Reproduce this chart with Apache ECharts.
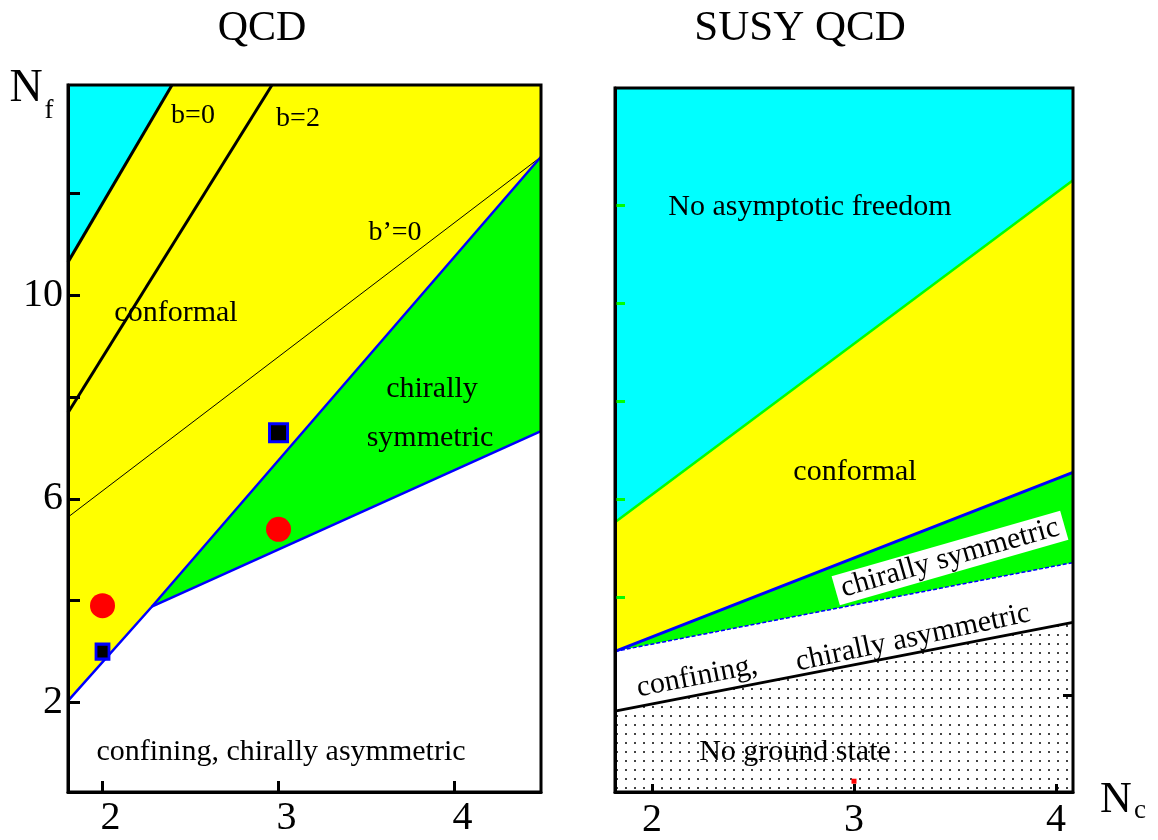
<!DOCTYPE html>
<html>
<head>
<meta charset="utf-8">
<script src="https://cdn.jsdelivr.net/npm/echarts@6/dist/echarts.min.js"></script>
<style>
html,body{margin:0;padding:0;background:#fff;}
#chart{width:1158px;height:840px;}
</style>
</head>
<body>
<div id="chart"></div>
<script>
// ---------- data (Nc, Nf) ----------
// QCD panel
const qcdXTicks = [2, 3, 4];
const qcdYTicks = [2, 4, 6, 8, 10, 12];
const qcdYLabels = [2, 6, 10];
const qcdB0 = [[1.804, 10.65], [2.395, 14.13]];           // b=0 line (asymptotic freedom lost)
const qcdB2 = [[1.804, 7.69], [2.963, 14.13]];            // b=2 line
const qcdBprime = [[1.804, 5.64], [4.491, 12.72]];        // b'=0 line
const qcdUpper = [[1.804, 2.03], [2.28, 3.88], [4.491, 12.72]]; // conformal / chirally symmetric boundary
const qcdLower = [[2.28, 3.88], [4.491, 7.33]];           // chirally symmetric / confining boundary
const qcdCircles = [[2, 3.9], [3, 5.4]];
const qcdSquaresBig = [[3, 7.3]];
const qcdSquaresSmall = [[2, 3.0]];

// SUSY QCD panel
const susyXTicks = [2, 3, 4];
const susyYTicks = [4, 6, 8, 10, 12];
const susyYTicksBlack = [2];
const susyAF = [[1.817, 5.53], [4.084, 12.51]];           // asymptotic freedom boundary
const susyUpper = [[1.817, 2.90], [4.084, 6.55]];         // conformal lower edge
const susyLower = [[1.817, 2.90], [4.084, 4.71]];         // chirally symmetric lower edge
const susyNoGround = [[1.817, 1.68], [4.084, 3.49]];      // no ground state upper edge
const susyMark = [[3, 0.25]];

// ---------- styling ----------
const SERIF = "'Liberation Serif', 'Times New Roman', serif";
const CYAN = '#00ffff', YELLOW = '#ffff00', GREEN = '#00ff00', BLUE = '#0000ff', RED = '#ff0000';

const dotCanvas = document.createElement('canvas');
dotCanvas.width = 9; dotCanvas.height = 9;
const dctx = dotCanvas.getContext('2d');
dctx.fillStyle = '#ffffff'; dctx.fillRect(0, 0, 9, 9);
dctx.fillStyle = '#444444'; dctx.fillRect(4, 4, 2, 2);

function fill(data, color, origin, gx, gy, z) {
  return { type: 'line', data: data, xAxisIndex: gx, yAxisIndex: gy, showSymbol: false, silent: true,
    lineStyle: { opacity: 0, width: 0 }, areaStyle: { color: color, opacity: 1, origin: origin }, z: z };
}
function line(data, color, width, gx, gy, type) {
  return { type: 'line', data: data, xAxisIndex: gx, yAxisIndex: gy, showSymbol: false, silent: true,
    lineStyle: { color: color, width: width, type: type || 'solid' }, z: 5 };
}
function txt(x, y, s, size, rot, bg) {
  const st = { text: s, fontSize: size, fontFamily: SERIF, fill: '#000', align: 'center', verticalAlign: 'middle' };
  if (bg) { st.backgroundColor = '#fff'; st.padding = [0, 6]; }
  return { type: 'text', x: x, y: y, rotation: (rot || 0) * Math.PI / 180, z: 200, silent: true, style: st };
}

const chart = echarts.init(document.getElementById('chart'), null, { renderer: 'canvas' });

const axisCommon = {
  type: 'value', z: 10,
  axisLine: { show: true, lineStyle: { color: '#000', width: 3 } },
  splitLine: { show: false }
};

const option = {
  animation: false,
  backgroundColor: '#fff',
  grid: [
    { left: 68, top: 85, width: 473, height: 707, show: true, borderColor: '#000', borderWidth: 3, backgroundColor: 'transparent', z: 20 },
    { left: 615, top: 88, width: 458, height: 705, show: true, borderColor: '#000', borderWidth: 3, backgroundColor: 'transparent', z: 20 }
  ],
  xAxis: [
    Object.assign({}, axisCommon, { gridIndex: 0, min: 1.804, max: 4.491,
      axisTick: { show: true, inside: true, length: 11, customValues: qcdXTicks, lineStyle: { color: '#000', width: 3 } },
      axisLabel: { show: true, customValues: qcdXTicks, fontSize: 40, fontFamily: SERIF, color: '#000', margin: 6, padding: [0, 0, 0, 16] } }),
    Object.assign({}, axisCommon, { gridIndex: 1, min: 1.817, max: 4.084,
      axisTick: { show: true, inside: true, length: 8, customValues: susyXTicks, lineStyle: { color: '#000', width: 3 } },
      axisLabel: { show: true, customValues: susyXTicks, fontSize: 40, fontFamily: SERIF, color: '#000', margin: 8 } })
  ],
  yAxis: [
    Object.assign({}, axisCommon, { gridIndex: 0, min: 0.24, max: 14.13,
      axisTick: { show: true, inside: true, length: 12, customValues: qcdYTicks, lineStyle: { color: '#000', width: 3 } },
      axisLabel: { show: true, customValues: qcdYLabels, fontSize: 40, fontFamily: SERIF, color: '#000', margin: 5 } }),
    Object.assign({}, axisCommon, { gridIndex: 1, min: 0.03, max: 14.39,
      axisTick: { show: true, inside: true, length: 10, customValues: susyYTicks, lineStyle: { color: GREEN, width: 3 } },
      axisLabel: { show: false } }),
    Object.assign({}, axisCommon, { gridIndex: 1, min: 0.03, max: 14.39,
      axisLine: { show: false },
      axisTick: { show: true, inside: true, length: 10, customValues: susyYTicksBlack, lineStyle: { color: '#000', width: 3 } },
      axisLabel: { show: false } })
  ],
  series: [
    // QCD regions
    fill(qcdLower, GREEN, 'end', 0, 0, 1),
    fill(qcdUpper, YELLOW, 'end', 0, 0, 2),
    fill(qcdB0, CYAN, 'end', 0, 0, 3),
    line(qcdB0, '#000', 3, 0, 0),
    line(qcdB2, '#000', 3, 0, 0),
    line(qcdBprime, '#000', 1, 0, 0),
    line(qcdUpper, BLUE, 2.5, 0, 0),
    line(qcdLower, BLUE, 2.5, 0, 0),
    { type: 'scatter', xAxisIndex: 0, yAxisIndex: 0, data: qcdCircles, symbol: 'circle', symbolSize: 25,
      itemStyle: { color: RED, opacity: 1 }, z: 8, silent: true },
    { type: 'scatter', xAxisIndex: 0, yAxisIndex: 0, data: qcdSquaresBig, symbol: 'rect', symbolSize: 18,
      itemStyle: { color: '#000', borderColor: BLUE, borderWidth: 3, opacity: 1 }, z: 8, silent: true },
    { type: 'scatter', xAxisIndex: 0, yAxisIndex: 0, data: qcdSquaresSmall, symbol: 'rect', symbolSize: [13, 15],
      itemStyle: { color: '#000', borderColor: BLUE, borderWidth: 3, opacity: 1 }, z: 8, silent: true },
    // SUSY QCD regions
    fill(susyNoGround, { image: dotCanvas, repeat: 'repeat' }, 'start', 1, 1, 1),
    fill(susyLower, GREEN, 'end', 1, 1, 1),
    fill(susyUpper, YELLOW, 'end', 1, 1, 2),
    fill(susyAF, CYAN, 'end', 1, 1, 3),
    line(susyAF, GREEN, 2.5, 1, 1),
    line(susyUpper, BLUE, 3, 1, 1),
    line(susyLower, BLUE, 1.5, 1, 1, [4, 2]),
    line(susyNoGround, '#000', 3, 1, 1),
    { type: 'scatter', xAxisIndex: 1, yAxisIndex: 1, data: susyMark, symbol: 'rect', symbolSize: 5,
      itemStyle: { color: RED, opacity: 1 }, z: 8, silent: true }
  ],
  graphic: [
    txt(262, 29, 'QCD', 42),
    txt(800, 29, 'SUSY QCD', 43),
    txt(26, 89, 'N', 46),
    txt(49, 111, 'f', 27),
    txt(1116, 800, 'N', 44),
    txt(1140, 811, 'c', 27),
    txt(193, 116, 'b=0', 28),
    txt(298, 119, 'b=2', 28),
    txt(395, 233, 'b\u2019=0', 28),
    txt(176, 313, 'conformal', 30),
    txt(432, 389, 'chirally', 30),
    txt(430, 438, 'symmetric', 30),
    txt(281, 752, 'confining, chirally asymmetric', 30),
    txt(810, 207, 'No asymptotic freedom', 30),
    txt(855, 472, 'conformal', 30),
    txt(950, 558, 'chirally symmetric', 30, 16, true),
    txt(697, 677, 'confining,', 30, 11),
    txt(913, 638, 'chirally asymmetric', 30, 12),
    txt(795, 752, 'No ground state', 30)
  ]
};
chart.setOption(option);
</script>
</body>
</html>
